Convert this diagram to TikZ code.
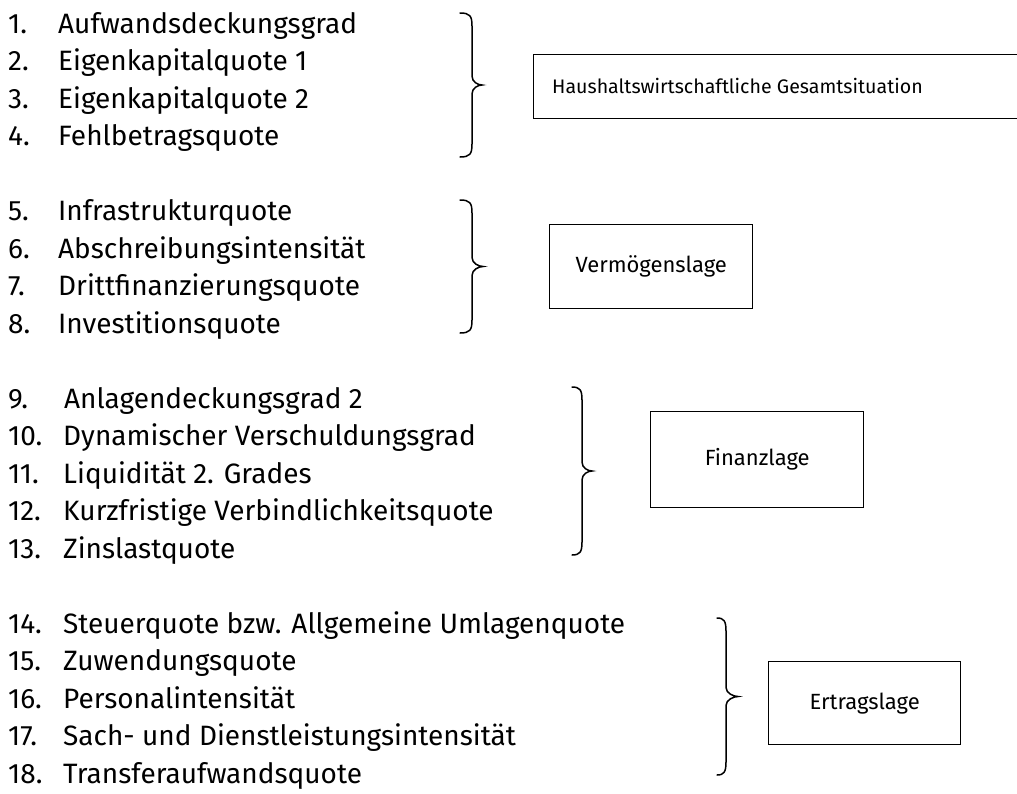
\documentclass[tikz,border=0pt]{standalone}
\usepackage{fontspec}
\setmainfont{Fira Sans}
\begin{document}
\begin{tikzpicture}[x=1pt,y=-1pt,
  itemnum/.style={anchor=base west,inner sep=0pt,font=\fontsize{28}{32}\selectfont},
  itemtxt/.style={anchor=base west,inner sep=0pt,font=\fontsize{28}{32}\selectfont},
  catbox/.style={draw,line width=1.4pt,inner sep=0pt,font=\fontsize{22}{26}\selectfont},
  bracestyle/.style={line width=1.5pt,line cap=round}]
\useasboundingbox (0,0) rectangle (1017,793);
\clip (0,0) rectangle (1017,793);
\newcommand{\wordbrace}[5]{%
  \draw[bracestyle] (#1,#4) .. controls ({#2-2},#4) and (#2,{#4+3}) .. (#2,{#4+13})
    -- (#2,{(#4+#5)/2-9}) .. controls (#2,{(#4+#5)/2-3}) and ({#3-4},{(#4+#5)/2}) .. (#3,{(#4+#5)/2})
    .. controls ({#3-4},{(#4+#5)/2}) and (#2,{(#4+#5)/2+3}) .. (#2,{(#4+#5)/2+9})
    -- (#2,{#5-13}) .. controls (#2,{#5-3}) and ({#2-2},#5) .. (#1,#5);}
\def\bl#1{\fpeval{33+37.5*#1}}
% group 1
\node[itemnum] (n1) at (8,{\bl{0}}) {1.};
\node[itemtxt] (t1) at (58,{\bl{0}}) {Aufwandsdeckungsgrad};
\node[itemnum] (n2) at (8,{\bl{1}}) {2.};
\node[itemtxt] (t2) at (58,{\bl{1}}) {Eigenkapitalquote 1};
\node[itemnum] (n3) at (8,{\bl{2}}) {3.};
\node[itemtxt] (t3) at (58,{\bl{2}}) {Eigenkapitalquote 2};
\node[itemnum] (n4) at (8,{\bl{3}}) {4.};
\node[itemtxt] (t4) at (58,{\bl{3}}) {Fehlbetragsquote};
% group 2
\node[itemnum] (n5) at (8,{\bl{5}}) {5.};
\node[itemtxt] (t5) at (58,{\bl{5}}) {Infrastrukturquote};
\node[itemnum] (n6) at (8,{\bl{6}}) {6.};
\node[itemtxt] (t6) at (58,{\bl{6}}) {Abschreibungsintensität};
\node[itemnum] (n7) at (8,{\bl{7}}) {7.};
\node[itemtxt] (t7) at (58,{\bl{7}}) {Drittfinanzierungsquote};
\node[itemnum] (n8) at (8,{\bl{8}}) {8.};
\node[itemtxt] (t8) at (58,{\bl{8}}) {Investitionsquote};
% group 3
\node[itemnum] (n9) at (8,{\bl{10}}) {9.};
\node[itemtxt] (t9) at (64,{\bl{10}}) {Anlagendeckungsgrad 2};
\node[itemnum] (n10) at (8,{\bl{11}}) {10.};
\node[itemtxt] (t10) at (63,{\bl{11}}) {Dynamischer Verschuldungsgrad};
\node[itemnum] (n11) at (8,{\bl{12}}) {11.};
\node[itemtxt] (t11) at (63,{\bl{12}}) {Liquidität 2. Grades};
\node[itemnum] (n12) at (8,{\bl{13}}) {12.};
\node[itemtxt] (t12) at (63,{\bl{13}}) {Kurzfristige Verbindlichkeitsquote};
\node[itemnum] (n13) at (8,{\bl{14}}) {13.};
\node[itemtxt] (t13) at (63,{\bl{14}}) {Zinslastquote};
% group 4
\node[itemnum] (n14) at (8,{\bl{16}}) {14.};
\node[itemtxt] (t14) at (63,{\bl{16}}) {Steuerquote bzw. Allgemeine Umlagenquote};
\node[itemnum] (n15) at (8,{\bl{17}}) {15.};
\node[itemtxt] (t15) at (63,{\bl{17}}) {Zuwendungsquote};
\node[itemnum] (n16) at (8,{\bl{18}}) {16.};
\node[itemtxt] (t16) at (63,{\bl{18}}) {Personalintensität};
\node[itemnum] (n17) at (8,{\bl{19}}) {17.};
\node[itemtxt] (t17) at (63,{\bl{19}}) {Sach- und Dienstleistungsintensität};
\node[itemnum] (n18) at (8,{\bl{20}}) {18.};
\node[itemtxt] (t18) at (63,{\bl{20}}) {Transferaufwandsquote};
% braces
\wordbrace{460}{472}{482}{13}{157}
\wordbrace{460}{472}{483}{200}{333}
\wordbrace{572}{582}{592}{387}{555}
\wordbrace{717}{726}{738}{618}{775}
% boxes
\node[catbox,anchor=north west,minimum width=520pt,minimum height=64pt] (b1) at (533,54) {};
\node[anchor=west,inner sep=0pt,font=\fontsize{19.6}{23}\selectfont] (b1t) at (552,86) {Haushaltswirtschaftliche Gesamtsituation};
\node[catbox,anchor=north west,minimum width=203pt,minimum height=84pt] (b2) at (549,224) {Vermögenslage};
\node[catbox,anchor=north west,minimum width=213pt,minimum height=96pt] (b3) at (650,411) {Finanzlage};
\node[catbox,anchor=north west,minimum width=192pt,minimum height=83pt] (b4) at (768,661) {Ertragslage};
\end{tikzpicture}
\end{document}
